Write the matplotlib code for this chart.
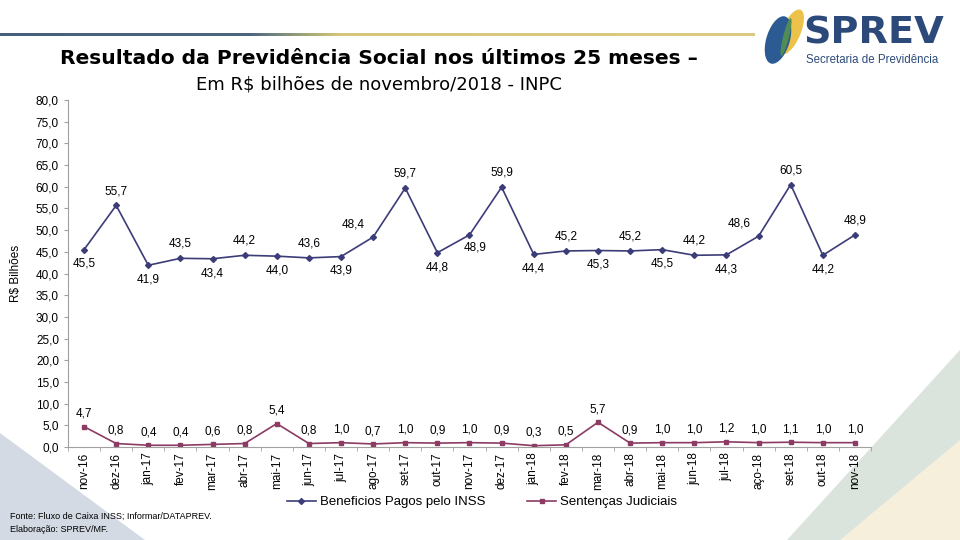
import numpy as np
import matplotlib.pyplot as plt
from matplotlib.patches import Polygon, Ellipse
from matplotlib.colors import LinearSegmentedColormap
from matplotlib.ticker import FuncFormatter, MultipleLocator

plt.rcParams['font.family'] = ['Liberation Sans', 'DejaVu Sans']

meses = ['nov-16', 'dez-16', 'jan-17', 'fev-17', 'mar-17', 'abr-17', 'mai-17',
         'jun-17', 'jul-17', 'ago-17', 'set-17', 'out-17', 'nov-17', 'dez-17',
         'jan-18', 'fev-18', 'mar-18', 'abr-18', 'mai-18', 'jun-18', 'jul-18',
         'aço-18', 'set-18', 'out-18', 'nov-18']
beneficios = [45.5, 55.7, 41.9, 43.5, 43.4, 44.2, 44.0, 43.6, 43.9, 48.4, 59.7, 44.8,
              48.9, 59.9, 44.4, 45.2, 45.3, 45.2, 45.5, 44.2, 44.3, 48.6, 60.5, 44.2, 48.9]
sentencas = [4.7, 0.8, 0.4, 0.4, 0.6, 0.8, 5.4, 0.8, 1.0, 0.7, 1.0, 0.9, 1.0, 0.9,
             0.3, 0.5, 5.7, 0.9, 1.0, 1.0, 1.2, 1.0, 1.1, 1.0, 1.0]

# where each label of the INSS series sits: a=above, b=below, l=above-left, r=below-right
lado_benef = ['b', 'a', 'b', 'a', 'b', 'a', 'b', 'a', 'b', 'l', 'a', 'b', 'r',
              'a', 'b', 'a', 'b', 'a', 'b', 'a', 'b', 'l', 'a', 'b', 'a']

cor_benef = '#3c3c78'
cor_sent = '#8c3b64'
fmt = lambda v: f'{v:.1f}'.replace('.', ',')

fig = plt.figure(figsize=(9.6, 5.4), dpi=100)

# background decorations
for pts, cor in [([[0, 1 - 433 / 540], [145 / 960, 0], [0, 0]], '#d3dae3'),
                 ([[1, 1 - 350 / 540], [1, 0], [787 / 960, 0]], '#dbe3dd'),
                 ([[1, 1 - 440 / 540], [1, 0], [840 / 960, 0]], '#f6efdc')]:
    fig.patches.append(Polygon(pts, closed=True, transform=fig.transFigure,
                               facecolor=cor, edgecolor='none', zorder=-5))

# gradient rule at the top
ax_bar = fig.add_axes([0, 1 - 36 / 540, 755 / 960, 3 / 540])
grad = LinearSegmentedColormap.from_list('g', [(0, '#45607e'), (0.33, '#4d6680'),
                                              (0.40, '#9aa27a'), (0.45, '#d6c67a'), (1, '#dccb80')])
ax_bar.imshow(np.linspace(0, 1, 256)[None, :], aspect='auto', cmap=grad)
ax_bar.axis('off')

# logo
fig.patches.append(Ellipse((791 / 960, 1 - 32 / 540), 20 / 960, 46 / 540, angle=-12,
                           transform=fig.transFigure, facecolor='#ecc24a', edgecolor='none'))
fig.patches.append(Ellipse((778 / 960, 1 - 40 / 540), 24 / 960, 48 / 540, angle=-8,
                           transform=fig.transFigure, facecolor='#2c5a92', edgecolor='none'))
fig.patches.append(Ellipse((786 / 960, 1 - 37 / 540), 6 / 960, 38 / 540, angle=-8,
                           transform=fig.transFigure, facecolor='#4f8d55', edgecolor='none'))
fig.text(803 / 960, 1 - 34 / 540, 'SPREV', fontsize=27.5, fontweight='heavy', color='#2b4a7a',
         family='DejaVu Sans', ha='left', va='center')
fig.text(806 / 960, 1 - 60 / 540, 'Secretaria de Previdência', fontsize=8.3, color='#2b4a7a',
         ha='left', va='center')

# titles
fig.text(379 / 960, 1 - 58 / 540, 'Resultado da Previdência Social nos últimos 25 meses –',
         fontsize=14.6, fontweight='bold', family='DejaVu Sans', ha='center', va='center')
fig.text(379 / 960, 1 - 84 / 540, 'Em R$ bilhões de novembro/2018 - INPC',
         fontsize=13, family='DejaVu Sans', ha='center', va='center')

ax = fig.add_axes([68 / 960, 1 - 447 / 540, 803 / 960, 347 / 540])
ax.patch.set_alpha(0)
x = np.arange(len(meses))
ax.plot(x, beneficios, color=cor_benef, lw=1.2, marker='D', ms=3,
        label='Beneficios Pagos pelo INSS')
ax.plot(x, sentencas, color=cor_sent, lw=1.2, marker='s', ms=3.5,
        label='Sentenças Judiciais')

offsets = {'a': ((0, 6), 'center', 'bottom'), 'b': ((0, -6), 'center', 'top'),
           'l': ((-6, 5), 'right', 'bottom'), 'r': ((4, -5), 'center', 'top')}
for xi, v, lado in zip(x, beneficios, lado_benef):
    off, ha, va = offsets[lado]
    ax.annotate(fmt(v), (xi, v), xytext=off, textcoords='offset points',
                ha=ha, va=va, fontsize=8.5)
for xi, v in zip(x, sentencas):
    ax.annotate(fmt(v), (xi, v), xytext=(0, 5), textcoords='offset points',
                ha='center', va='bottom', fontsize=8.5)

ax.set_xlim(-0.5, len(meses) - 0.5)
ax.set_ylim(0, 80)
ax.yaxis.set_major_locator(MultipleLocator(5))
ax.yaxis.set_major_formatter(FuncFormatter(lambda v, p: fmt(v)))
ax.set_xticks(x)
ax.set_xticklabels(meses, rotation=90, fontsize=8.5)
ax.set_xticks(np.arange(-0.5, len(meses), 1), minor=True)
ax.tick_params(axis='x', which='major', length=0, pad=4)
ax.tick_params(axis='x', which='minor', length=3, color='#a0a0a0')
ax.tick_params(axis='y', labelsize=8.5, length=3, color='#a0a0a0')
for s in ['top', 'right']:
    ax.spines[s].set_visible(False)
for s in ['left', 'bottom']:
    ax.spines[s].set_color('#a0a0a0')
ax.set_ylabel('R$ Bilhões', fontsize=8.5, labelpad=10)

fig.legend(loc='center', bbox_to_anchor=(482 / 960, 1 - 502 / 540), ncol=2, frameon=False,
           fontsize=9.5, columnspacing=3.2, handlelength=2.2, handletextpad=0.3)

fig.text(10 / 960, 1 - 516 / 540, 'Fonte: Fluxo de Caixa INSS; Informar/DATAPREV.', fontsize=6.5,
         ha='left', va='center')
fig.text(10 / 960, 1 - 530 / 540, 'Elaboração: SPREV/MF.', fontsize=6.5, ha='left', va='center')

fig.savefig('out.png', dpi=100)
